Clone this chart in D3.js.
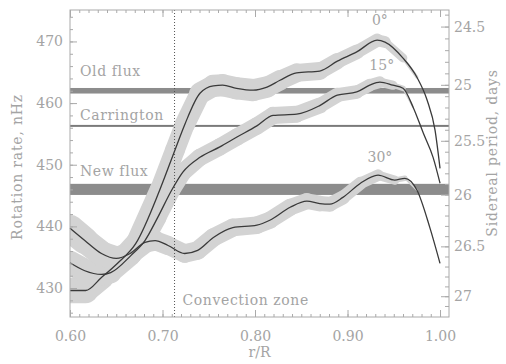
<!DOCTYPE html>
<html>
<head>
<meta charset="utf-8">
<script src="https://cdn.jsdelivr.net/npm/d3@7"></script>
<style>
  body { margin: 0; background: #fff; }
  svg { display: block; }
  text { font-family: "DejaVu Serif", serif; fill: #a4a4a4; }
</style>
</head>
<body>
<svg id="chart" width="506" height="364"></svg>
<script>
// rotation profiles at three latitudes: radius, rate (nHz), error half-width (nHz)
const radius0 = [0.600, 0.617, 0.634, 0.652, 0.671, 0.697, 0.7135, 0.724, 0.7405, 0.755, 0.765, 0.780, 0.798, 0.813, 0.827, 0.845, 0.870, 0.889, 0.910, 0.932, 0.9405, 0.960, 0.975, 0.986, 0.9946, 1.000];
const rate0   = [429.6, 429.6, 431.7, 434.1, 437.2, 445.9, 452.4, 456.5, 461.6, 462.8, 462.9, 462.4, 462.1, 462.6, 463.7, 464.9, 465.2, 466.8, 468.3, 470.2, 469.9, 467.3, 464.2, 460.5, 455.6, 449.4];
const err0    = [2.1, 2.0, 1.9, 1.8, 1.7, 1.6, 1.6, 1.6, 1.7, 1.8, 1.8, 1.8, 1.8, 1.7, 1.6, 1.5, 1.4, 1.25, 1.15, 1.0, 0.9, 0.5, 0, 0, 0, 0];

const radius15 = [0.600, 0.616, 0.634, 0.644, 0.666, 0.681, 0.695, 0.710, 0.722, 0.7405, 0.762, 0.7805, 0.802, 0.8195, 0.845, 0.870, 0.889, 0.910, 0.924, 0.935, 0.949, 0.960, 0.971, 0.982, 0.9925, 1.000];
const rate15   = [434.1, 432.8, 432.2, 432.5, 435.3, 437.7, 441.5, 445.9, 448.8, 451.2, 452.9, 454.5, 456.3, 458.0, 458.2, 459.6, 461.3, 461.8, 462.9, 463.4, 462.9, 462.4, 459.3, 455.1, 451.2, 447.0];
const err15    = [2.0, 1.9, 1.8, 1.7, 1.6, 1.5, 1.4, 1.4, 1.4, 1.4, 1.4, 1.4, 1.4, 1.4, 1.35, 1.25, 1.15, 1.05, 1.0, 0.9, 0.6, 0.3, 0, 0, 0, 0];

const radius30 = [0.600, 0.616, 0.634, 0.650, 0.665, 0.681, 0.692, 0.706, 0.724, 0.738, 0.755, 0.776, 0.802, 0.816, 0.838, 0.856, 0.870, 0.881, 0.895, 0.914, 0.933, 0.951, 0.962, 0.975, 0.989, 1.000];
const rate30   = [439.7, 437.7, 435.6, 434.8, 435.6, 437.4, 437.7, 436.9, 435.6, 436.1, 438.2, 439.8, 440.2, 441.0, 443.1, 444.1, 443.7, 443.6, 444.7, 447.0, 448.3, 447.5, 447.8, 445.9, 439.8, 434.0];
const err30    = [2.3, 2.1, 2.0, 1.9, 1.8, 1.7, 1.6, 1.5, 1.5, 1.5, 1.5, 1.45, 1.4, 1.4, 1.35, 1.3, 1.25, 1.2, 1.1, 1.0, 0.9, 0.6, 0.3, 0, 0, 0];

const latitudeLabels = ["0°", "15°", "30°"];
const latitudeLabelAt = [[0.935, 472.6], [0.937, 465.3], [0.935, 450.5]];

// reference rates
const fluxNames = ["Old flux", "Carrington", "New flux"];
const fluxRates = [462.0, 456.3, 446.0];
const fluxHalfWidths = [0.45, 0.16, 0.9];
const fluxLabelAt = [464.4, 457.3, 448.2];

const convectionBase = 0.713;

const radiusTicks = [0.60, 0.70, 0.80, 0.90, 1.00];
const rateTicks = [430, 440, 450, 460, 470];
const periodTicks = [24.5, 25, 25.5, 26, 26.5, 27];

const svg = d3.select("#chart");
const plotLeft = 70, plotRight = 449, plotTop = 10, plotBottom = 317;

const x = d3.scaleLinear().domain([0.6, 1.0097]).range([plotLeft, plotRight]);
const y = d3.scaleLinear().domain([425.3, 475.1]).range([plotBottom, plotTop]);
const toRate = p => 1e9 / (p * 86400);
const pxPerNHz = (plotBottom - plotTop) / (475.1 - 425.3);

svg.append("clipPath").attr("id", "plot-clip")
    .append("rect")
    .attr("x", plotLeft).attr("y", plotTop)
    .attr("width", plotRight - plotLeft).attr("height", plotBottom - plotTop);

const series = [
    { r: radius0, v: rate0, e: err0 },
    { r: radius15, v: rate15, e: err15 },
    { r: radius30, v: rate30, e: err30 }
].map(s => s.r.map((r, i) => ({ r, v: s.v[i], e: s.e[i] })));

// flux bands
fluxRates.forEach((rate, i) => {
    svg.append("rect")
        .attr("x", plotLeft)
        .attr("width", plotRight - plotLeft)
        .attr("y", y(rate + fluxHalfWidths[i]))
        .attr("height", y(rate - fluxHalfWidths[i]) - y(rate + fluxHalfWidths[i]))
        .attr("fill", i === 1 ? "#7a7a7a" : "#8c8c8c");
});

// error bands, drawn as thick round segments
const bandG = svg.append("g").attr("clip-path", "url(#plot-clip)");
series.forEach(pts => {
    d3.pairs(pts).forEach(([a, b]) => {
        const e = (a.e + b.e) / 2;
        if (e <= 0) return;
        bandG.append("line")
            .attr("x1", x(a.r)).attr("y1", y(a.v))
            .attr("x2", x(b.r)).attr("y2", y(b.v))
            .attr("stroke", "#d3d3d3")
            .attr("stroke-width", 2 * e * pxPerNHz)
            .attr("stroke-linecap", "round");
    });
});

// convection zone base
svg.append("line")
    .attr("x1", x(convectionBase)).attr("x2", x(convectionBase))
    .attr("y1", plotTop).attr("y2", plotBottom)
    .attr("stroke", "#555")
    .attr("stroke-width", 1)
    .attr("stroke-dasharray", "1,2");

const line = d3.line()
    .x(d => x(d.r))
    .y(d => y(d.v))
    .curve(d3.curveMonotoneX);

svg.selectAll("path.profile")
    .data(series)
    .join("path")
    .attr("class", "profile")
    .attr("d", line)
    .attr("fill", "none")
    .attr("stroke", "#3a3a3a")
    .attr("stroke-width", 1.3);

// frame
svg.append("rect")
    .attr("x", plotLeft).attr("y", plotTop)
    .attr("width", plotRight - plotLeft).attr("height", plotBottom - plotTop)
    .attr("fill", "none")
    .attr("stroke", "#aaa");

function styleAxis(g) {
    g.select(".domain").remove();
    g.selectAll("line").attr("stroke", "#aaa");
    g.selectAll("text").attr("font-size", 14).attr("fill", "#a4a4a4")
        .attr("font-family", "DejaVu Serif, serif");
}

const minorRadius = d3.range(60, 101).map(d => d / 100);
const minorRate = d3.range(426, 476, 2);
const minorPeriod = d3.range(244, 272).map(d => d / 10).filter(p => toRate(p) <= 475.1 && toRate(p) >= 425.3);

svg.append("g").attr("transform", `translate(0,${plotBottom})`)
    .call(d3.axisBottom(x).tickValues(minorRadius).tickSize(-3).tickFormat("")).call(styleAxis);
svg.append("g").attr("transform", `translate(0,${plotBottom})`)
    .call(d3.axisBottom(x).tickValues(radiusTicks).tickSize(-7).tickPadding(14).tickFormat(d3.format(".2f"))).call(styleAxis);
svg.append("g").attr("transform", `translate(0,${plotTop})`)
    .call(d3.axisTop(x).tickValues(minorRadius).tickSize(-3).tickFormat("")).call(styleAxis);
svg.append("g").attr("transform", `translate(0,${plotTop})`)
    .call(d3.axisTop(x).tickValues(radiusTicks).tickSize(-7).tickFormat("")).call(styleAxis);

svg.append("g").attr("transform", `translate(${plotLeft},0)`)
    .call(d3.axisLeft(y).tickValues(minorRate).tickSize(-3).tickFormat("")).call(styleAxis);
svg.append("g").attr("transform", `translate(${plotLeft},0)`)
    .call(d3.axisLeft(y).tickValues(rateTicks).tickSize(-7).tickPadding(7)).call(styleAxis);

svg.append("g").attr("transform", `translate(${plotRight},0)`)
    .call(d3.axisRight(y).tickValues(minorPeriod.map(toRate)).tickSize(-4).tickFormat("")).call(styleAxis);
svg.append("g").attr("transform", `translate(${plotRight},0)`)
    .call(d3.axisRight(y).tickValues(periodTicks.map(toRate)).tickSize(-8).tickPadding(5)
        .tickFormat((d, i) => String(periodTicks[i]))).call(styleAxis);

// annotations
svg.selectAll("text.flux")
    .data(fluxNames)
    .join("text")
    .attr("class", "flux")
    .attr("x", plotLeft + 10)
    .attr("y", (d, i) => y(fluxLabelAt[i]))
    .attr("font-size", 14)
    .attr("letter-spacing", 0.6)
    .text(d => d);

svg.selectAll("text.lat")
    .data(latitudeLabels)
    .join("text")
    .attr("class", "lat")
    .attr("x", (d, i) => x(latitudeLabelAt[i][0]))
    .attr("y", (d, i) => y(latitudeLabelAt[i][1]))
    .attr("text-anchor", "middle")
    .attr("font-size", 14)
    .text(d => d);

svg.append("text")
    .attr("x", x(convectionBase) + 8)
    .attr("y", plotBottom - 12)
    .attr("font-size", 14)
    .attr("letter-spacing", 0.6)
    .text("Convection zone");

svg.append("text")
    .attr("x", (plotLeft + plotRight) / 2)
    .attr("y", 357)
    .attr("text-anchor", "middle")
    .attr("font-size", 14)
    .attr("fill", "#aaa")
    .text("r/R");

svg.append("text")
    .attr("transform", `translate(22,167) rotate(-90)`)
    .attr("text-anchor", "middle")
    .attr("font-size", 14)
    .attr("letter-spacing", 0.8)
    .attr("fill", "#aaa")
    .text("Rotation rate, nHz");

svg.append("text")
    .attr("transform", `translate(497,153) rotate(-90)`)
    .attr("text-anchor", "middle")
    .attr("font-size", 14)
    .attr("letter-spacing", 0.8)
    .attr("fill", "#aaa")
    .text("Sidereal period, days");
</script>
</body>
</html>
